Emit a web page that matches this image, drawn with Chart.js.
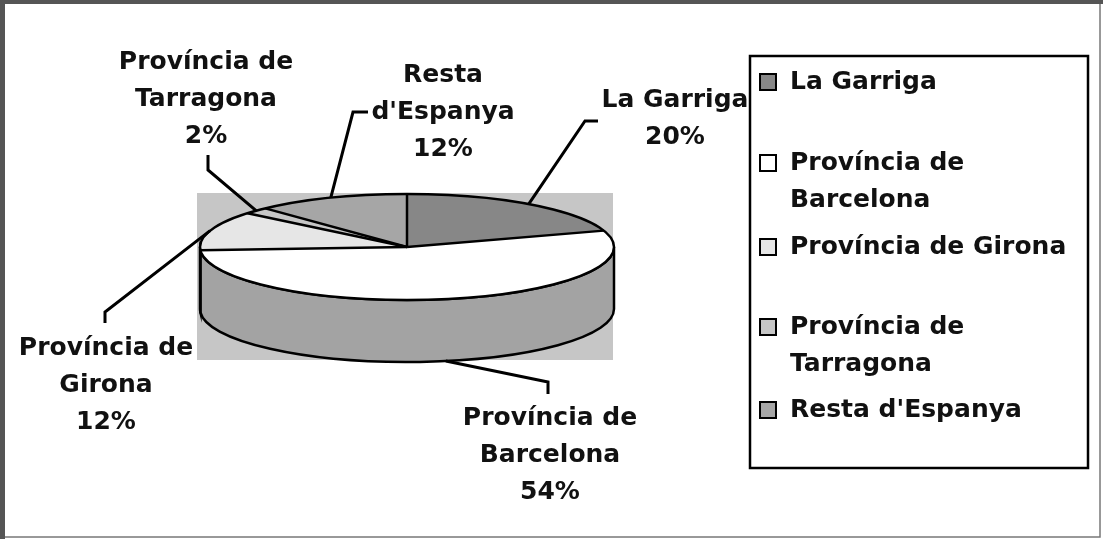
<!DOCTYPE html>
<html>
<head>
<meta charset="utf-8">
<script src="https://cdn.jsdelivr.net/npm/chart.js@4.4.0/dist/chart.umd.min.js"></script>
<style>
  body { margin: 0; background: #fff; }
  .wrap { position: relative; width: 1103px; height: 539px; }
</style>
</head>
<body>
<div class="wrap"><canvas id="chart"></canvas></div>
<script>
// data
const categories = ['La Garriga', 'Província de Barcelona', 'Província de Girona', 'Província de Tarragona', "Resta d'Espanya"];
const percents = [20, 54, 12, 2, 12];
const pctLabels = ['20%', '54%', '12%', '2%', '12%'];
const labelLines = [['La Garriga'], ['Província de', 'Barcelona'], ['Província de', 'Girona'], ['Província de', 'Tarragona'], ['Resta', "d'Espanya"]];
const legendLines = [['La Garriga'], ['Província de', 'Barcelona'], ['Província de Girona'], ['Província de', 'Tarragona'], ["Resta d'Espanya"]];

// look
const topColors = ['#878787', '#ffffff', '#e6e6e6', '#c6c6c6', '#a6a6a6'];
const sideColors = ['#6c6c6c', '#a3a3a3', '#cdcdcd', '#a9a9a9', '#888888'];
const SQUASH = 53 / 207;
const DEPTH = 62;
const FONT = 'bold 25px "DejaVu Sans"';
const LINE_H = 37;

// where the data labels sit + the bent part of their leader line
const labelPos = [
    { x: 675, y: 100, line: [[598, 121], [585, 121]] },
    { x: 550, y: 418, line: [[548, 394], [548, 382]], side: true },
    { x: 106, y: 348, line: [[105, 323], [105, 312]] },
    { x: 206, y: 62, line: [[208, 155], [208, 170]] },
    { x: 443, y: 75, line: [[368, 112], [353, 112]] }
];
const legendY = [82, 163, 247, 327, 410];

function ellipsePt(cx, cy, rx, ry, a) {
    return [cx + rx * Math.cos(a), cy + ry * Math.sin(a)];
}

const pie3d = {
    id: 'pie3d',
    beforeDatasetsDraw(chart) {
        const ctx = chart.ctx;
        const arcs = chart.getDatasetMeta(0).data;
        const cx = arcs[0].x, cy = arcs[0].y, rx = arcs[0].outerRadius, ry = rx * SQUASH;

        // grey plot area behind the pie
        ctx.save();
        ctx.fillStyle = '#c6c6c6';
        ctx.fillRect(197, 193, 416, 167);

        // front wall of the disc
        arcs.forEach((a, i) => {
            const a0 = Math.max(a.startAngle, 0);
            const a1 = Math.min(a.endAngle, Math.PI);
            if (a1 <= a0) return;
            ctx.beginPath();
            ctx.ellipse(cx, cy, rx, ry, 0, a0, a1);
            ctx.ellipse(cx, cy + DEPTH, rx, ry, 0, a1, a0, true);
            ctx.closePath();
            ctx.fillStyle = sideColors[i];
            ctx.fill();
            ctx.lineWidth = 2.5;
            ctx.strokeStyle = '#000';
            ctx.stroke();
        });
        ctx.restore();

        // squash the library's round pie into the top face
        ctx.save();
        ctx.translate(cx, cy);
        ctx.scale(1, SQUASH);
        ctx.translate(-cx, -cy);
    },
    afterDatasetsDraw(chart) {
        const ctx = chart.ctx;
        ctx.restore();
        const arcs = chart.getDatasetMeta(0).data;
        const cx = arcs[0].x, cy = arcs[0].y, rx = arcs[0].outerRadius, ry = rx * SQUASH;

        ctx.save();
        ctx.strokeStyle = '#000';
        ctx.lineWidth = 2.5;
        ctx.beginPath();
        ctx.ellipse(cx, cy, rx, ry, 0, 0, Math.PI * 2);
        ctx.stroke();
        arcs.forEach(a => {
            const p = ellipsePt(cx, cy, rx, ry, a.startAngle);
            ctx.beginPath();
            ctx.moveTo(cx, cy);
            ctx.lineTo(p[0], p[1]);
            ctx.stroke();
        });
        ctx.restore();
    },
    afterDraw(chart) {
        const ctx = chart.ctx;
        const arcs = chart.getDatasetMeta(0).data;
        const cx = arcs[0].x, cy = arcs[0].y, rx = arcs[0].outerRadius, ry = rx * SQUASH;

        ctx.save();
        // data labels with leader lines
        ctx.font = FONT;
        ctx.fillStyle = '#111';
        ctx.textAlign = 'center';
        ctx.textBaseline = 'middle';
        arcs.forEach((a, i) => {
            const lp = labelPos[i];
            const lines = labelLines[i].concat([pctLabels[i]]);
            lines.forEach((t, k) => ctx.fillText(t, lp.x, lp.y + k * LINE_H));

            const mid = (a.startAngle + a.endAngle) / 2;
            const end = ellipsePt(cx, cy + (lp.side ? DEPTH : 0), rx, ry, mid);
            ctx.beginPath();
            ctx.moveTo(lp.line[0][0], lp.line[0][1]);
            ctx.lineTo(lp.line[1][0], lp.line[1][1]);
            ctx.lineTo(end[0], end[1]);
            ctx.lineWidth = 3;
            ctx.strokeStyle = '#000';
            ctx.stroke();
        });

        // legend
        ctx.lineWidth = 2.5;
        ctx.strokeStyle = '#000';
        ctx.strokeRect(750, 56, 338, 412);
        ctx.textAlign = 'left';
        categories.forEach((c, i) => {
            const y = legendY[i];
            ctx.fillStyle = topColors[i];
            ctx.fillRect(760, y - 8, 16, 16);
            ctx.lineWidth = 2;
            ctx.strokeRect(760, y - 8, 16, 16);
            ctx.fillStyle = '#111';
            legendLines[i].forEach((t, k) => ctx.fillText(t, 790, y + k * LINE_H));
        });

        // outer frame, darker on top and left like the scan
        ctx.strokeStyle = '#777';
        ctx.lineWidth = 1.5;
        ctx.strokeRect(2, 2, 1098, 535);
        ctx.fillStyle = '#555';
        ctx.fillRect(0, 0, 1103, 4);
        ctx.fillRect(0, 0, 5, 539);
        ctx.restore();
    }
};

const chart = document.querySelector('#chart').getContext('2d');

new Chart(chart, {
    type: 'pie',
    data: {
        labels: categories,
        datasets: [{
            data: percents,
            backgroundColor: topColors,
            borderWidth: 0
        }]
    },
    options: {
        responsive: true,
        maintainAspectRatio: false,
        animation: false,
        events: [],
        layout: { padding: { left: 200, right: 489, top: 40, bottom: 85 } },
        plugins: {
            legend: { display: false },
            tooltip: { enabled: false }
        }
    },
    plugins: [pie3d]
});
</script>
</body>
</html>
